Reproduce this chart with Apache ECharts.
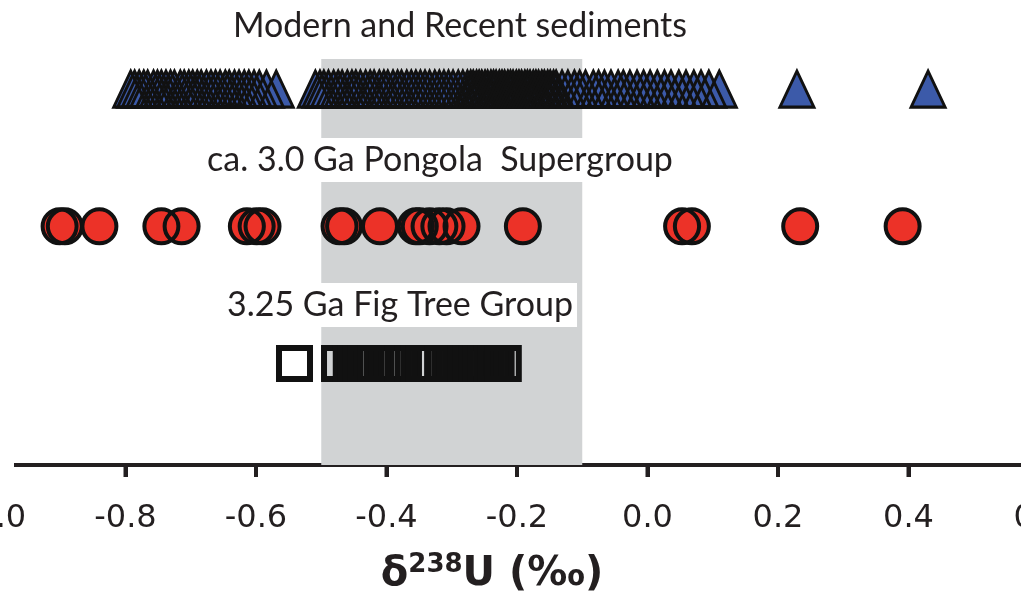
<!DOCTYPE html>
<html>
<head>
<meta charset="utf-8">
<script src="https://cdn.jsdelivr.net/npm/echarts@6/dist/echarts.min.js"></script>
<style>
html,body{margin:0;padding:0;background:#ffffff;overflow:hidden;width:1021px;height:600px;}
#c{position:absolute;left:-5px;top:0;width:1044px;height:600px;}
</style>
</head>
<body>
<div id="c"></div>
<script>
// ---------------- data ----------------
const rowNames = ['3.25 Ga Fig Tree Group', 'ca. 3.0 Ga Pongola  Supergroup', 'Modern and Recent sediments'];

const modernValues = [
  -0.792, -0.786, -0.779, -0.772, -0.766, -0.757, -0.751, -0.745, -0.738, -0.731,
  -0.725, -0.716, -0.710, -0.703, -0.697, -0.690, -0.684, -0.676, -0.669, -0.662,
  -0.655, -0.647, -0.641, -0.633, -0.626, -0.618, -0.611, -0.603, -0.595, -0.584, -0.569,
  -0.509, -0.502, -0.496, -0.489, -0.481, -0.474, -0.468, -0.460, -0.453, -0.447,
  -0.440, -0.432, -0.425, -0.419, -0.411, -0.404, -0.398, -0.390, -0.383, -0.377,
  -0.369, -0.362, -0.355, -0.348, -0.341, -0.334, -0.326, -0.319, -0.312, -0.305,
  -0.298, -0.290, -0.283, -0.276,
  -0.271, -0.267, -0.262, -0.258, -0.254, -0.249, -0.245, -0.240, -0.236, -0.232,
  -0.227, -0.223, -0.219, -0.214, -0.210, -0.206, -0.201, -0.197, -0.193, -0.188,
  -0.184, -0.180, -0.175, -0.171, -0.167, -0.162, -0.158, -0.153, -0.149, -0.144, -0.140,
  -0.131, -0.122, -0.112, -0.104, -0.095, -0.083, -0.075, -0.066, -0.056, -0.045,
  -0.037, -0.027, -0.016, -0.006, 0.004, 0.015, 0.026, 0.036, 0.048, 0.059,
  0.071, 0.082, 0.094, 0.110,
  0.229, 0.430
];

const pongolaValues = [
  -0.901, -0.893, -0.840, -0.745, -0.714, -0.614, -0.599, -0.590,
  -0.472, -0.465, -0.410, -0.355, -0.349, -0.334, -0.319, -0.308, -0.285,
  -0.191, 0.053, 0.068, 0.234, 0.391
];

const figTreeValues = [
  -0.541,
  -0.472, -0.454, -0.446, -0.439, -0.431, -0.416, -0.374, -0.359, -0.350, -0.342,
  -0.334, -0.314, -0.278, -0.271, -0.262, -0.255, -0.247, -0.239, -0.232, -0.221
];

const tickValues = [-1.0, -0.8, -0.6, -0.4, -0.2, 0.0, 0.2, 0.4, 0.6];
const modernBand = [-0.5, -0.1];
const xMin = -1.0, xMax = 0.6, xStep = 0.2;

// ---------------- layout / style ----------------
const FONT = 'Lato, "Open Sans", "DejaVu Sans", sans-serif';
const AXFONT = '"DejaVu Sans", Verdana, sans-serif';
const INK = '#231f20';
const STROKE = '#111111';
const RED = '#ec3228';
const BLUE = '#3c5aa9';
const BAND = '#d1d3d4';

const rowOffset = 0.74;        // vertical placement of the first row above the axis
const yMin = 0, yMax = 3.39, bandTop = 2.96;
const DX = 5;                  // chart div is shifted 5px to the left of the page

const chart = echarts.init(document.getElementById('c'), null, {renderer: 'canvas'});
const toPts = (vals, row) => vals.map(v => [v, row + rowOffset]);

const option = {
  animation: false,
  backgroundColor: '#ffffff',
  grid: {left: 0, right: 0, top: 0, bottom: 135, containLabel: false, outerBoundsMode: 'none'},
  xAxis: {
    type: 'value', min: xMin, max: xMax, interval: xStep, position: 'bottom',
    axisLine: {show: true, onZero: true, lineStyle: {color: INK, width: 4}},
    axisTick: {show: true, inside: false, length: 12, lineStyle: {color: INK, width: 4}},
    splitLine: {show: false},
    axisLabel: {
      fontFamily: AXFONT, fontSize: 32, color: INK, margin: 38,
      formatter: v => (Math.abs(v) < 1e-9 ? '0.0' : v.toFixed(1))
    },
    name: '{d|δ}{s|238}{d|U (‰)}',
    nameLocation: 'middle',
    nameGap: 87,
    nameTextStyle: {
      padding: [0, 50, 0, 0],
      rich: {
        d: {fontFamily: AXFONT, fontSize: 40, fontWeight: 'bold', color: INK, lineHeight: 46},
        s: {fontFamily: AXFONT, fontSize: 26, fontWeight: 'bold', color: INK, lineHeight: 26, verticalAlign: 'top'}
      }
    }
  },
  yAxis: {type: 'value', min: yMin, max: yMax, show: false},
  series: [
    {
      name: rowNames[0], type: 'scatter', silent: true,
      data: toPts(figTreeValues, 0),
      symbol: 'rect', symbolSize: 31,
      itemStyle: {color: 'rgba(0,0,0,0)', borderColor: STROKE, borderWidth: 6, opacity: 1},
      markArea: {
        silent: true,
        itemStyle: {color: BAND, opacity: 1},
        data: [[{coord: [modernBand[0], yMin]}, {coord: [modernBand[1], bandTop]}]]
      }
    },
    {
      name: rowNames[1] + ' fill', type: 'scatter', silent: true,
      data: toPts(pongolaValues, 1),
      symbol: 'circle', symbolSize: 34,
      itemStyle: {color: RED, borderWidth: 0, opacity: 1}
    },
    {
      name: rowNames[1], type: 'scatter', silent: true,
      data: toPts(pongolaValues, 1),
      symbol: 'circle', symbolSize: 34,
      itemStyle: {color: 'rgba(0,0,0,0)', borderColor: STROKE, borderWidth: 4, opacity: 1}
    },
    {
      name: rowNames[2] + ' fill', type: 'scatter', silent: true,
      data: toPts(modernValues, 2),
      symbol: 'triangle', symbolSize: [34, 36],
      itemStyle: {color: BLUE, borderWidth: 0, opacity: 1}
    },
    {
      name: rowNames[2], type: 'scatter', silent: true,
      data: toPts(modernValues, 2),
      symbol: 'triangle', symbolSize: [34, 36],
      itemStyle: {color: 'rgba(0,0,0,0)', borderColor: STROKE, borderWidth: 3, opacity: 1}
    }
  ]
};
chart.setOption(option);

// tick marks (placed through the axis scale), group titles,
// and a white mask where the original axis line begins (page x < 14)
const base = chart.convertToPixel({gridIndex: 0}, [xMax, yMin]);
const tickMarks = tickValues.map(v => {
  const p = chart.convertToPixel({gridIndex: 0}, [v, yMin]);
  return {type: 'line', z: 9, silent: true,
          shape: {x1: p[0], y1: p[1], x2: p[0], y2: p[1] + 12},
          style: {stroke: INK, lineWidth: 4}};
});
const labelStyle = (text, x, y) => ({
  type: 'text', x: x + DX, y: y, z: 10, silent: true,
  style: {
    text: text, font: '34px ' + FONT, fill: INK,
    align: 'center', verticalAlign: 'middle',
    backgroundColor: '#ffffff', lineHeight: 44, padding: [0, 4]
  }
});
chart.setOption({
  graphic: tickMarks.concat([
    {type: 'rect', z: 10, silent: true,
     shape: {x: 0, y: base[1] - 3, width: 14 + DX, height: 6},
     style: {fill: '#ffffff'}},
    labelStyle(rowNames[2], 460, 26),
    labelStyle(rowNames[1], 440, 160),
    labelStyle(rowNames[0], 400, 305)
  ])
});
</script>
</body>
</html>
